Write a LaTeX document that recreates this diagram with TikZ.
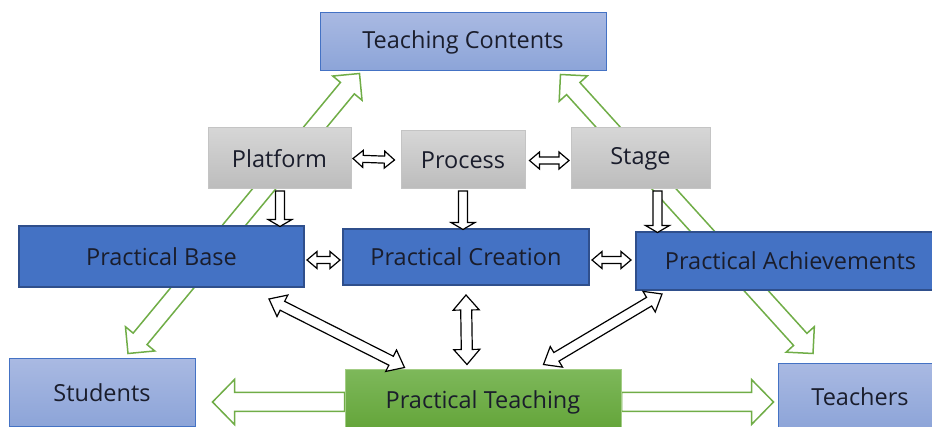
\documentclass[tikz,border=0pt]{standalone}
\usepackage{fontspec}
\setmainfont{Open Sans}
\usetikzlibrary{calc,
                backgrounds}
\definecolor{textdark}{HTML}{1A1D2C}
\definecolor{paletop}{HTML}{A9B9E2}
\definecolor{palebottom}{HTML}{8CA4D8}
\definecolor{paleedge}{HTML}{4472C4}
\definecolor{greytop}{HTML}{D6D6D6}
\definecolor{greybottom}{HTML}{BCBCBC}
\definecolor{greyedge}{HTML}{C4C4C4}
\definecolor{deepblue}{HTML}{4472C4}
\definecolor{deepedge}{HTML}{2F4F8C}
\definecolor{greentop}{HTML}{7DB85A}
\definecolor{greenbottom}{HTML}{62A337}
\definecolor{greenedge}{HTML}{A3CD85}
\definecolor{arrowgreen}{HTML}{70AD47}
\tikzset{arrow shaft/.store in=\shafthalf,
         arrow head/.store in=\headhalf,
         arrow head length/.store in=\headlen,
         arrow shaft=4pt,
         arrow head=10pt,
         arrow head length=10pt}
\tikzset{box/.style =
   {rectangle,
    inner sep=0pt,
    text centered,
    text=textdark,
    font=\fontsize{23.5pt}{27pt}\selectfont}}
\tikzset{pale/.style =
   {box,
    draw=paleedge,
    line width=1pt,
    top color=paletop,
    bottom color=palebottom}}
\tikzset{grey/.style =
   {box,
    draw=greyedge,
    line width=1pt,
    top color=greytop,
    bottom color=greybottom}}
\tikzset{deep/.style =
   {box,
    draw=deepedge,
    line width=2pt,
    fill=deepblue}}
\tikzset{leaf/.style =
   {box,
    draw=greenedge,
    line width=1pt,
    top color=greentop,
    bottom color=greenbottom}}
\tikzset{hollow-black/.style = {draw=black, fill=white, line width=1.2pt}}
\tikzset{hollow-green/.style = {draw=arrowgreen, fill=white, line width=1.5pt}}

% block arrow with one head, drawn from #2 to #3
\newcommand{\onewayarrow}[3][]{%
  \begin{scope}[#1]
    \coordinate (arr-a) at #2;
    \coordinate (arr-b) at #3;
    \coordinate (arr-hb) at ($(arr-b)!\headlen!(arr-a)$);
    \draw[#1] ($(arr-a)!\shafthalf!90:(arr-b)$)
      -- ($(arr-hb)!\shafthalf!90:(arr-b)$)
      -- ($(arr-hb)!\headhalf!90:(arr-b)$)
      -- (arr-b)
      -- ($(arr-hb)!\headhalf!-90:(arr-b)$)
      -- ($(arr-hb)!\shafthalf!-90:(arr-b)$)
      -- ($(arr-a)!\shafthalf!-90:(arr-b)$) -- cycle;
  \end{scope}}

% block arrow with a head at both ends
\newcommand{\twowayarrow}[3][]{%
  \begin{scope}[#1]
    \coordinate (arr-a) at #2;
    \coordinate (arr-b) at #3;
    \coordinate (arr-ha) at ($(arr-a)!\headlen!(arr-b)$);
    \coordinate (arr-hb) at ($(arr-b)!\headlen!(arr-a)$);
    \draw[#1] (arr-a)
      -- ($(arr-ha)!\headhalf!90:(arr-b)$)
      -- ($(arr-ha)!\shafthalf!90:(arr-b)$)
      -- ($(arr-hb)!\shafthalf!90:(arr-b)$)
      -- ($(arr-hb)!\headhalf!90:(arr-b)$)
      -- (arr-b)
      -- ($(arr-hb)!\headhalf!-90:(arr-b)$)
      -- ($(arr-hb)!\shafthalf!-90:(arr-b)$)
      -- ($(arr-ha)!\shafthalf!-90:(arr-b)$)
      -- ($(arr-ha)!\headhalf!-90:(arr-b)$) -- cycle;
  \end{scope}}

\begin{document}
\begin{tikzpicture}[x=1pt, y=1pt]

    \useasboundingbox (0,0) rectangle (932,-427);

    % top and bottom corners
    \node [pale, minimum width=286pt, minimum height=58pt] (contents)
          at (463,-42) {Teaching Contents};
    \node [pale, minimum width=186pt, minimum height=68pt] (students)
          at (102,-393) {Students};
    \node [pale, minimum width=164pt, minimum height=66pt] (teachers)
          at (860,-397) {Teachers};
    \node [leaf, minimum width=276pt, minimum height=64pt] (teaching)
          at (483,-402) {Practical Teaching};

    % grey row
    \node [grey, minimum width=143pt, minimum height=61pt] (platform)
          at (279.5,-158.5) {Platform};
    \node [grey, minimum width=124pt, minimum height=58pt] (process)
          at (463,-160) {Process};
    \node [grey, minimum width=139pt, minimum height=61pt] (stage)
          at (640.5,-158.5) {Stage};

    % blue row
    \node [deep, minimum width=285pt, minimum height=61pt] (base)
          at (161.5,-256.5) {Practical Base};
    \node [deep, minimum width=246pt, minimum height=56pt] (creation)
          at (466,-257) {Practical Creation};
    \node [deep, minimum width=309pt, minimum height=58pt] (achieve)
          at (790.5,-261) {Practical Achievements};

    % green arrows behind the boxes
    \begin{pgfonlayer}{background}
    \twowayarrow[hollow-green, arrow shaft=9pt, arrow head=19pt, arrow head length=19pt]
        {([xshift=26pt,yshift=5pt]students.north)}
        {([xshift=40pt,yshift=-2pt]contents.south west)}
    \twowayarrow[hollow-green, arrow shaft=9pt, arrow head=19pt, arrow head length=19pt]
        {([xshift=-46pt,yshift=-3pt]contents.south east)}
        {([xshift=-47pt,yshift=10pt]teachers.north)}
    \onewayarrow[hollow-green, arrow shaft=9.5pt, arrow head=22.5pt, arrow head length=22pt]
        {(teaching.west)}
        {([xshift=-132pt]teaching.west)}
    \onewayarrow[hollow-green, arrow shaft=9.5pt, arrow head=22.5pt, arrow head length=22pt]
        {(teaching.east)}
        {([xshift=152pt]teaching.east)}
    \end{pgfonlayer}

    % grey row links
    \twowayarrow[hollow-black, arrow shaft=3.5pt, arrow head=8.5pt, arrow head length=10pt]
        {([xshift=1.5pt]platform.east)}
        {([xshift=-6pt]process.west)}
    \twowayarrow[hollow-black, arrow shaft=3.5pt, arrow head=8.5pt, arrow head length=10pt]
        {([xshift=4pt,yshift=-0.5pt]process.east)}
        {([xshift=-1.5pt,yshift=-2pt]stage.west)}

    % grey down to blue
    \onewayarrow[hollow-black, arrow shaft=4.5pt, arrow head=12pt, arrow head length=7pt]
        {([xshift=0.5pt,yshift=-1.5pt]platform.south)}
        {([xshift=0.5pt,yshift=-37pt]platform.south)}
    \onewayarrow[hollow-black, arrow shaft=4.5pt, arrow head=12pt, arrow head length=7pt]
        {([yshift=-1.5pt]process.south)}
        {([yshift=-40pt]process.south)}
    \onewayarrow[hollow-black, arrow shaft=4.5pt, arrow head=12pt, arrow head length=7pt]
        {([xshift=17pt,yshift=-1.5pt]stage.south)}
        {([xshift=17pt,yshift=-43pt]stage.south)}

    % blue row links
    \twowayarrow[hollow-black, arrow shaft=3.5pt, arrow head=8.5pt, arrow head length=10pt]
        {([xshift=2pt,yshift=-3.5pt]base.east)}
        {([xshift=-2pt,yshift=-3pt]creation.west)}
    \twowayarrow[hollow-black, arrow shaft=3.5pt, arrow head=8.5pt, arrow head length=10pt]
        {([xshift=2pt,yshift=-3pt]creation.east)}
        {([xshift=-4pt,yshift=1pt]achieve.west)}

    % blue row down to practical teaching
    \twowayarrow[hollow-black, arrow shaft=5.5pt, arrow head=13pt, arrow head length=15pt]
        {([yshift=-9pt]creation.south)}
        {([xshift=-16pt,yshift=5pt]teaching.north)}
    \twowayarrow[hollow-black, arrow shaft=5pt, arrow head=12pt, arrow head length=15pt]
        {([xshift=-36pt,yshift=-11pt]base.south east)}
        {([xshift=60pt,yshift=2pt]teaching.north west)}
    \twowayarrow[hollow-black, arrow shaft=5pt, arrow head=12pt, arrow head length=15pt]
        {([xshift=27pt,yshift=-3pt]achieve.south west)}
        {([xshift=-78pt,yshift=5pt]teaching.north east)}

\end{tikzpicture}
\end{document}
